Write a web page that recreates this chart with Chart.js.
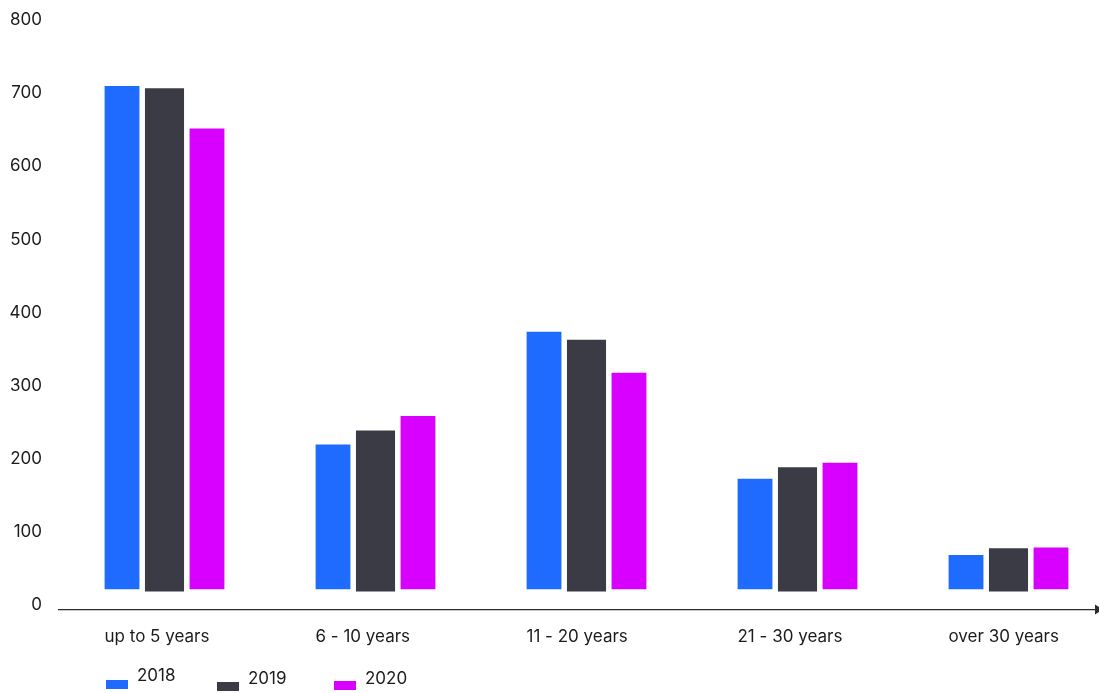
<!DOCTYPE html>
<html>
<head>
<meta charset="utf-8">
<script src="https://cdn.jsdelivr.net/npm/chart.js@4.4.0/dist/chart.umd.min.js"></script>
<style>
  html, body { margin: 0; padding: 0; background: #ffffff; overflow: hidden; }
  #wrap { position: relative; width: 1140px; height: 693px; }
</style>
</head>
<body>
<div id="wrap"><canvas id="chart"></canvas></div>
<script>
// Categories, series and tick values
const categories = ['up to 5 years', '6 - 10 years', '11 - 20 years', '21 - 30 years', 'over 30 years'];
const seriesLabels = ['2018', '2019', '2020'];
const values2018 = [707, 217, 371, 170, 66];
const values2019 = [704, 236, 360, 186, 75];
const values2020 = [649, 256, 315, 192, 76];
const yTickValues = [0, 100, 200, 300, 400, 500, 600, 700, 800];

const COLORS = ['#1f6bff', '#3b3b46', '#d800fe'];
const TEXT = '#1c1c1c';

Chart.defaults.font.family = 'Inter, "Noto Sans", sans-serif';
Chart.defaults.font.size = 17;
Chart.defaults.color = TEXT;

// Arrowhead at the end of the horizontal axis
const axisArrow = {
  id: 'axisArrow',
  afterDraw(chart) {
    const { ctx, chartArea } = chart;
    const y = chartArea.bottom;
    const tipX = chartArea.right - 11;
    ctx.save();
    ctx.fillStyle = '#2b2b2b';
    ctx.beginPath();
    ctx.moveTo(tipX - 8, y - 5);
    ctx.lineTo(tipX, y);
    ctx.lineTo(tipX - 8, y + 5);
    ctx.closePath();
    ctx.fill();
    ctx.restore();
  }
};

// Legend drawn under the axis, one swatch + year per series
const yearLegend = {
  id: 'yearLegend',
  afterDraw(chart, args, opts) {
    const { ctx } = chart;
    ctx.save();
    ctx.font = '17px Inter, "Noto Sans", sans-serif';
    ctx.textBaseline = 'middle';
    ctx.textAlign = 'left';
    chart.data.datasets.forEach((ds, i) => {
      const item = opts.items[i];
      ctx.fillStyle = ds.backgroundColor;
      ctx.fillRect(item.boxX, item.boxY, 22, 9);
      ctx.fillStyle = TEXT;
      ctx.fillText(ds.label, item.textX, item.textY);
    });
    ctx.restore();
  }
};

new Chart(document.getElementById('chart'), {
  type: 'bar',
  data: {
    labels: categories,
    datasets: [
      { label: seriesLabels[0], data: values2018, backgroundColor: COLORS[0], barPercentage: 0.82, base: 19 },
      { label: seriesLabels[1], data: values2019, backgroundColor: COLORS[1], barPercentage: 0.92, base: 16 },
      { label: seriesLabels[2], data: values2020, backgroundColor: COLORS[2], barPercentage: 0.82, base: 19 }
    ]
  },
  options: {
    responsive: true,
    maintainAspectRatio: false,
    animation: false,
    layout: { padding: { top: 18, left: 0, right: 26, bottom: 47.5 } },
    datasets: { bar: { categoryPercentage: 0.604, borderWidth: 0 } },
    plugins: {
      legend: { display: false },
      tooltip: { enabled: false },
      yearLegend: {
        items: [
          { boxX: 106, boxY: 680, textX: 137, textY: 676 },
          { boxX: 217, boxY: 682, textX: 248, textY: 679 },
          { boxX: 334, boxY: 681, textX: 365, textY: 679 }
        ]
      }
    },
    scales: {
      x: {
        offset: true,
        grid: { display: false, drawTicks: false },
        border: { display: true, color: '#2b2b2b', width: 1.3 },
        ticks: { align: 'start', labelOffset: -60, padding: 17, color: TEXT, maxRotation: 0, autoSkip: false },
        afterFit(scale) { scale.height = 36; }
      },
      y: {
        min: -8.6,
        max: 800,
        bounds: 'data',
        grid: { display: false, drawTicks: true, tickLength: 17 },
        border: { display: false },
        afterBuildTicks(scale) { scale.ticks = yTickValues.map(v => ({ value: v })); },
        afterFit(scale) { scale.width = 59; },
        ticks: { padding: 0, labelOffset: 2, color: TEXT }
      }
    }
  },
  plugins: [axisArrow, yearLegend]
});
</script>
</body>
</html>
